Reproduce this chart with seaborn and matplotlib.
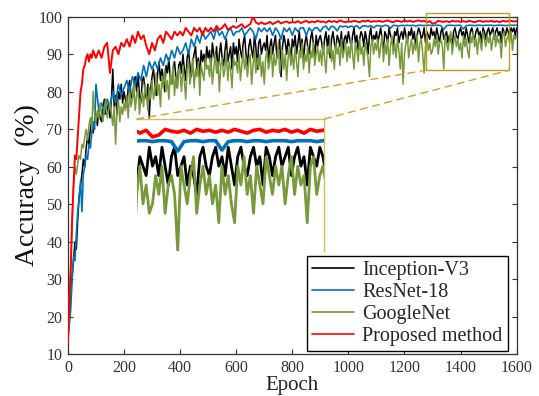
import numpy as np
import matplotlib
matplotlib.use("Agg")
import matplotlib.pyplot as plt
import seaborn as sns
from matplotlib.patches import Rectangle, ConnectionPatch
from matplotlib.lines import Line2D

# ---------------- data ----------------
# noisy series are sampled every 5 epochs, the smooth ones more coarsely
epochs_fine = np.arange(0, 1601, 5)
epochs_coarse = np.concatenate([np.arange(0, 101, 5), np.arange(110, 1601, 10)])

inception = [
    15, 20, 26, 31, 35, 40, 38, 46, 52, 55, 58, 62, 60, 65, 68, 66, 70, 73, 69, 72,
    74, 71, 75, 73, 72, 76, 78, 74, 75, 77, 73, 78, 86, 76, 79, 74, 80, 78, 82, 77,
    80, 78, 76, 81, 83, 79, 78, 82, 84, 80, 85, 79, 77, 83, 84, 80, 78, 82, 73, 81,
    84, 86, 82, 79, 85, 88, 83, 86, 84, 80, 87, 85, 89, 83, 82, 86, 88, 84, 81, 87,
    88, 85, 90, 86, 83, 89, 91, 87, 84, 88, 90, 92, 86, 89, 84, 91, 88, 90, 87, 92,
    89, 91, 86, 93, 90, 88, 92, 85, 90, 93, 89, 87, 91, 94, 88, 90, 92, 86, 93, 90,
    92, 88, 94, 91, 89, 93, 95, 90, 87, 92, 94, 91, 89, 95, 92, 86, 93, 94, 90, 92,
    93, 91, 95, 88, 92, 94, 90, 93, 95, 89, 91, 94, 84, 92, 95, 93, 90, 94, 92, 88,
    94, 92, 95, 90, 93, 96, 91, 94, 88, 93, 95, 92, 90, 94, 96, 93, 89, 95, 92, 94,
    95, 93, 90, 94, 96, 92, 95, 89, 94, 96, 93, 91, 95, 94, 92, 96, 90, 94, 95, 93,
    96, 94, 92, 95, 97, 93, 95, 91, 94, 96, 95, 92, 96, 94, 90, 95, 97, 93, 95, 94,
    96, 93, 95, 97, 94, 91, 96, 95, 93, 97, 95, 94, 92, 96, 95, 97, 93, 95, 96, 94,
    97, 95, 93, 96, 95, 97, 94, 96, 92, 95, 97, 96, 94, 95, 97, 93, 96, 95, 94, 97,
    95, 96, 94, 97, 95, 93, 96, 97, 94, 95, 96, 93, 95, 94, 92, 96, 97, 95, 94, 96,
    97, 95, 96, 94, 97, 95, 93, 96, 97, 95, 94, 96, 97, 95, 96, 93, 97, 96, 94, 96,
    97, 95, 96, 97, 94, 96, 97, 95, 96, 93, 97, 96, 95, 97, 96, 94, 97, 96, 97, 95,
    97,
]

googlenet = [
    15, 24, 35, 45, 55, 60, 58, 61, 63, 62, 66, 65, 68, 70, 67, 71, 73, 70, 80, 74,
    72, 75, 73, 77, 74, 72, 76, 78, 73, 75, 77, 74, 71, 76, 66, 75, 78, 72, 76, 74,
    77, 75, 79, 73, 80, 76, 78, 82, 75, 79, 81, 74, 78, 80, 76, 82, 79, 75, 81, 78,
    83, 78, 80, 85, 79, 82, 76, 84, 81, 86, 80, 83, 78, 85, 82, 87, 79, 84, 81, 86,
    85, 80, 87, 83, 78, 86, 88, 82, 85, 89, 81, 86, 84, 88, 79, 87, 85, 83, 89, 86,
    87, 84, 89, 82, 86, 90, 85, 88, 80, 87, 89, 84, 86, 91, 83, 88, 86, 81, 89, 87,
    88, 85, 90, 83, 87, 91, 86, 89, 84, 88, 90, 82, 87, 91, 85, 89, 86, 90, 84, 88,
    82, 89, 91, 86, 88, 92, 84, 90, 87, 89, 93, 85, 88, 91, 86, 90, 83, 89, 92, 87,
    90, 86, 92, 88, 84, 91, 89, 93, 86, 90, 88, 92, 85, 91, 89, 93, 87, 90, 92, 88,
    91, 87, 93, 89, 85, 92, 90, 94, 88, 91, 86, 93, 90, 92, 87, 94, 89, 91, 93, 88,
    92, 89, 94, 90, 86, 93, 91, 88, 94, 90, 92, 87, 93, 91, 89, 84, 92, 94, 90, 93,
    91, 94, 89, 92, 95, 88, 93, 90, 94, 87, 92, 95, 90, 93, 89, 94, 91, 86, 93, 82,
    90, 93, 95, 89, 92, 94, 90, 93, 91, 95, 88, 93, 94, 90, 85, 92, 95, 91, 93, 90,
    91, 94, 92, 95, 90, 93, 94, 92, 86, 95, 93, 91, 94, 96, 90, 93, 95, 92, 94, 91,
    93, 89, 95, 92, 94, 91, 89, 95, 93, 96, 92, 94, 90, 95, 93, 91, 96, 94, 92, 95,
    93, 95, 91, 94, 96, 92, 95, 93, 94, 89, 95, 96, 92, 94, 95, 93, 96, 91, 95, 94,
    95,
]

resnet = [
    14, 18, 22, 30, 36, 35, 42, 48, 52, 56, 48, 58, 60, 63, 62, 66, 65, 69, 72, 70, 82,
    75, 77, 74, 78, 76, 80, 77, 82, 79, 81,
    83, 80, 84, 82, 85, 83, 87, 84, 88, 86,
    88, 86, 89, 87, 90, 88, 91, 89, 92, 90,
    91, 93, 90, 94, 92, 95, 93, 96, 94, 95,
    96, 94, 97, 95, 96, 94, 96, 97, 95, 96,
    96, 97, 95, 96, 97, 96, 94, 97, 96, 97,
    96, 97, 95, 97, 96, 94, 97, 96, 97, 95,
    97, 96, 97, 97, 95, 97, 96, 97, 97, 96,
    97.2, 97.5, 96.4, 97.5, 97.2, 96.2, 97.5, 97.3, 97.5, 97.1,
    97.5, 97.2, 97.6, 96.8, 97.5, 97.6, 97.3, 97.6, 97.0, 97.6,
    97.6, 97.4, 97.7, 97.6, 96.9, 97.7, 97.6, 97.5, 97.7, 97.6,
    97.7, 97.6, 97.7, 97.5, 97.7, 97.7, 97.6, 97.7, 97.7, 97.6,
    97.7, 97.7, 97.6, 96.6, 97.6, 97.7, 97.7, 97.6, 97.7, 97.7,
    96.7, 97.6, 97.7, 97.7, 97.6, 97.7, 97.7, 97.6, 97.7, 97.7,
    97.7, 97.6, 97.7, 97.7, 97.7, 97.6, 97.7, 97.7, 97.7, 97.7,
]

proposed = [
    13, 25, 32, 46, 55, 63, 62, 68, 74, 80, 82, 86, 87, 89, 90, 88, 90, 89, 91, 90, 89,
    91, 89, 92, 93, 85, 91, 92, 90, 93, 92,
    94, 92, 95, 93, 96, 94, 95, 92, 90, 93,
    91, 94, 95, 93, 96, 95, 94, 96, 95, 96,
    95, 97, 96, 95, 97, 96, 97, 95, 97, 96,
    97, 96, 97.5, 96.5, 97, 98, 96.5, 97, 97.5, 97,
    97.5, 98, 97, 97.5, 98, 100, 98.5, 98, 98.5, 98,
    98.2, 98.6, 98.0, 98.4, 98.8, 98.2, 98.5, 98.7, 98.3, 98.6,
    98.4, 98.8, 98.3, 98.6, 98.9, 98.4, 98.7, 98.5, 98.9, 98.6,
    98.7, 98.4, 98.9, 98.6, 98.8, 98.5, 99.0, 98.7, 98.5, 98.8,
    98.6, 98.9, 98.7, 98.5, 98.9, 98.7, 99.0, 98.6, 98.8, 98.7,
    98.9, 98.6, 98.8, 99.0, 98.7, 98.5, 98.9, 98.8, 98.6, 99.0,
    98.7, 98.9, 98.6, 98.8, 99.0, 98.7, 98.9, 98.5, 98.8, 98.1,
    98.3, 98.9, 98.7, 98.6, 98.8, 98.5, 98.9, 98.7, 98.8, 98.6,
    98.8, 98.6, 98.9, 98.7, 98.5, 98.8, 98.9, 98.6, 98.8, 98.7,
    98.9, 98.6, 98.8, 98.5, 98.9, 98.7, 98.8, 98.9, 98.7, 98.8,
]

series_names = ["Inception-V3", "ResNet-18", "GoogleNet", "Proposed method"]
series_x = [epochs_fine, epochs_coarse, epochs_fine, epochs_coarse]
series_values = [inception, resnet, googlenet, proposed]
series_colors = ["#000000", "#0072BD", "#77993A", "#FF0000"]
draw_order = [2, 0, 1, 3]          # green at bottom, red on top
main_widths = [1.1, 1.2, 1.1, 1.4]
inset_widths = [2.0, 2.6, 2.0, 2.6]

zoom_x = (1275, 1572)
zoom_y = (85.7, 100.9)
inset_ylim = (86, 100)

# ---------------- style ----------------
sns.set_style("ticks")
plt.rcParams["font.family"] = ["Liberation Serif", "DejaVu Serif"]
plt.rcParams["axes.edgecolor"] = "#333333"

fig = plt.figure(figsize=(5.39, 3.96), dpi=100)
ax = fig.add_axes([0.126, 0.105, 0.8326, 0.853])

for i in draw_order:
    sns.lineplot(x=series_x[i], y=series_values[i], color=series_colors[i],
                 linewidth=main_widths[i], ax=ax, legend=False,
                 estimator=None, sort=False, zorder=2 + i)

ax.set_xlim(0, 1600)
ax.set_ylim(10, 100)
ax.set_xticks(np.arange(0, 1601, 200))
ax.set_yticks(np.arange(10, 101, 10))
ax.tick_params(direction="in", top=True, right=True, length=3.5, width=0.8,
               labelsize=11.5, colors="#333333", labelcolor="#333333", pad=4)
for s in ax.spines.values():
    s.set_linewidth(0.9)
    s.set_color("#333333")
ax.set_xlabel("Epoch", fontsize=15, labelpad=0, color="#222222")
ax.set_ylabel("Accuracy  (%)", fontsize=20, labelpad=-1, color="#111111")

handles = [Line2D([0], [0], color=c, lw=1.2) for c in series_colors]
leg = ax.legend(handles, series_names, loc="lower right",
                bbox_to_anchor=(0.98, 0.01), frameon=True, fancybox=False,
                edgecolor="black", fontsize=14.5, labelspacing=0.15,
                handlelength=2.1, handletextpad=0.4, borderpad=0.25,
                borderaxespad=0.0)
leg.get_frame().set_linewidth(1.0)
leg.get_frame().set_alpha(1)

# zoom rectangle
ax.add_patch(Rectangle((zoom_x[0], zoom_y[0]), zoom_x[1] - zoom_x[0],
                       zoom_y[1] - zoom_y[0], fill=False, edgecolor="#C49A1A",
                       lw=1.0, clip_on=False, zorder=10))

# inset
axins = fig.add_axes([0.2536, 0.3662, 0.348, 0.3333])
axins.patch.set_alpha(0)
for i in draw_order:
    sns.lineplot(x=series_x[i], y=series_values[i], color=series_colors[i],
                 linewidth=inset_widths[i], ax=axins, legend=False,
                 estimator=None, sort=False, zorder=2 + i)
axins.set_xlim(*zoom_x)
axins.set_ylim(*inset_ylim)
axins.set_xticks([])
axins.set_yticks([])
axins.set_xlabel("")
axins.set_ylabel("")
for side in ["left", "bottom"]:
    axins.spines[side].set_visible(False)
for side in ["top", "right"]:
    axins.spines[side].set_color("#D9B860")
    axins.spines[side].set_linewidth(1.0)

for fa, xb in [((0, 1), zoom_x[0]), ((1, 1), zoom_x[1])]:
    con = ConnectionPatch(xyA=fa, coordsA=axins.transAxes,
                          xyB=(xb, zoom_y[0]), coordsB=ax.transData,
                          color="#D4A020", lw=1.0, linestyle=(0, (5, 4)))
    fig.add_artist(con)

fig.savefig("out.png", dpi=100)
